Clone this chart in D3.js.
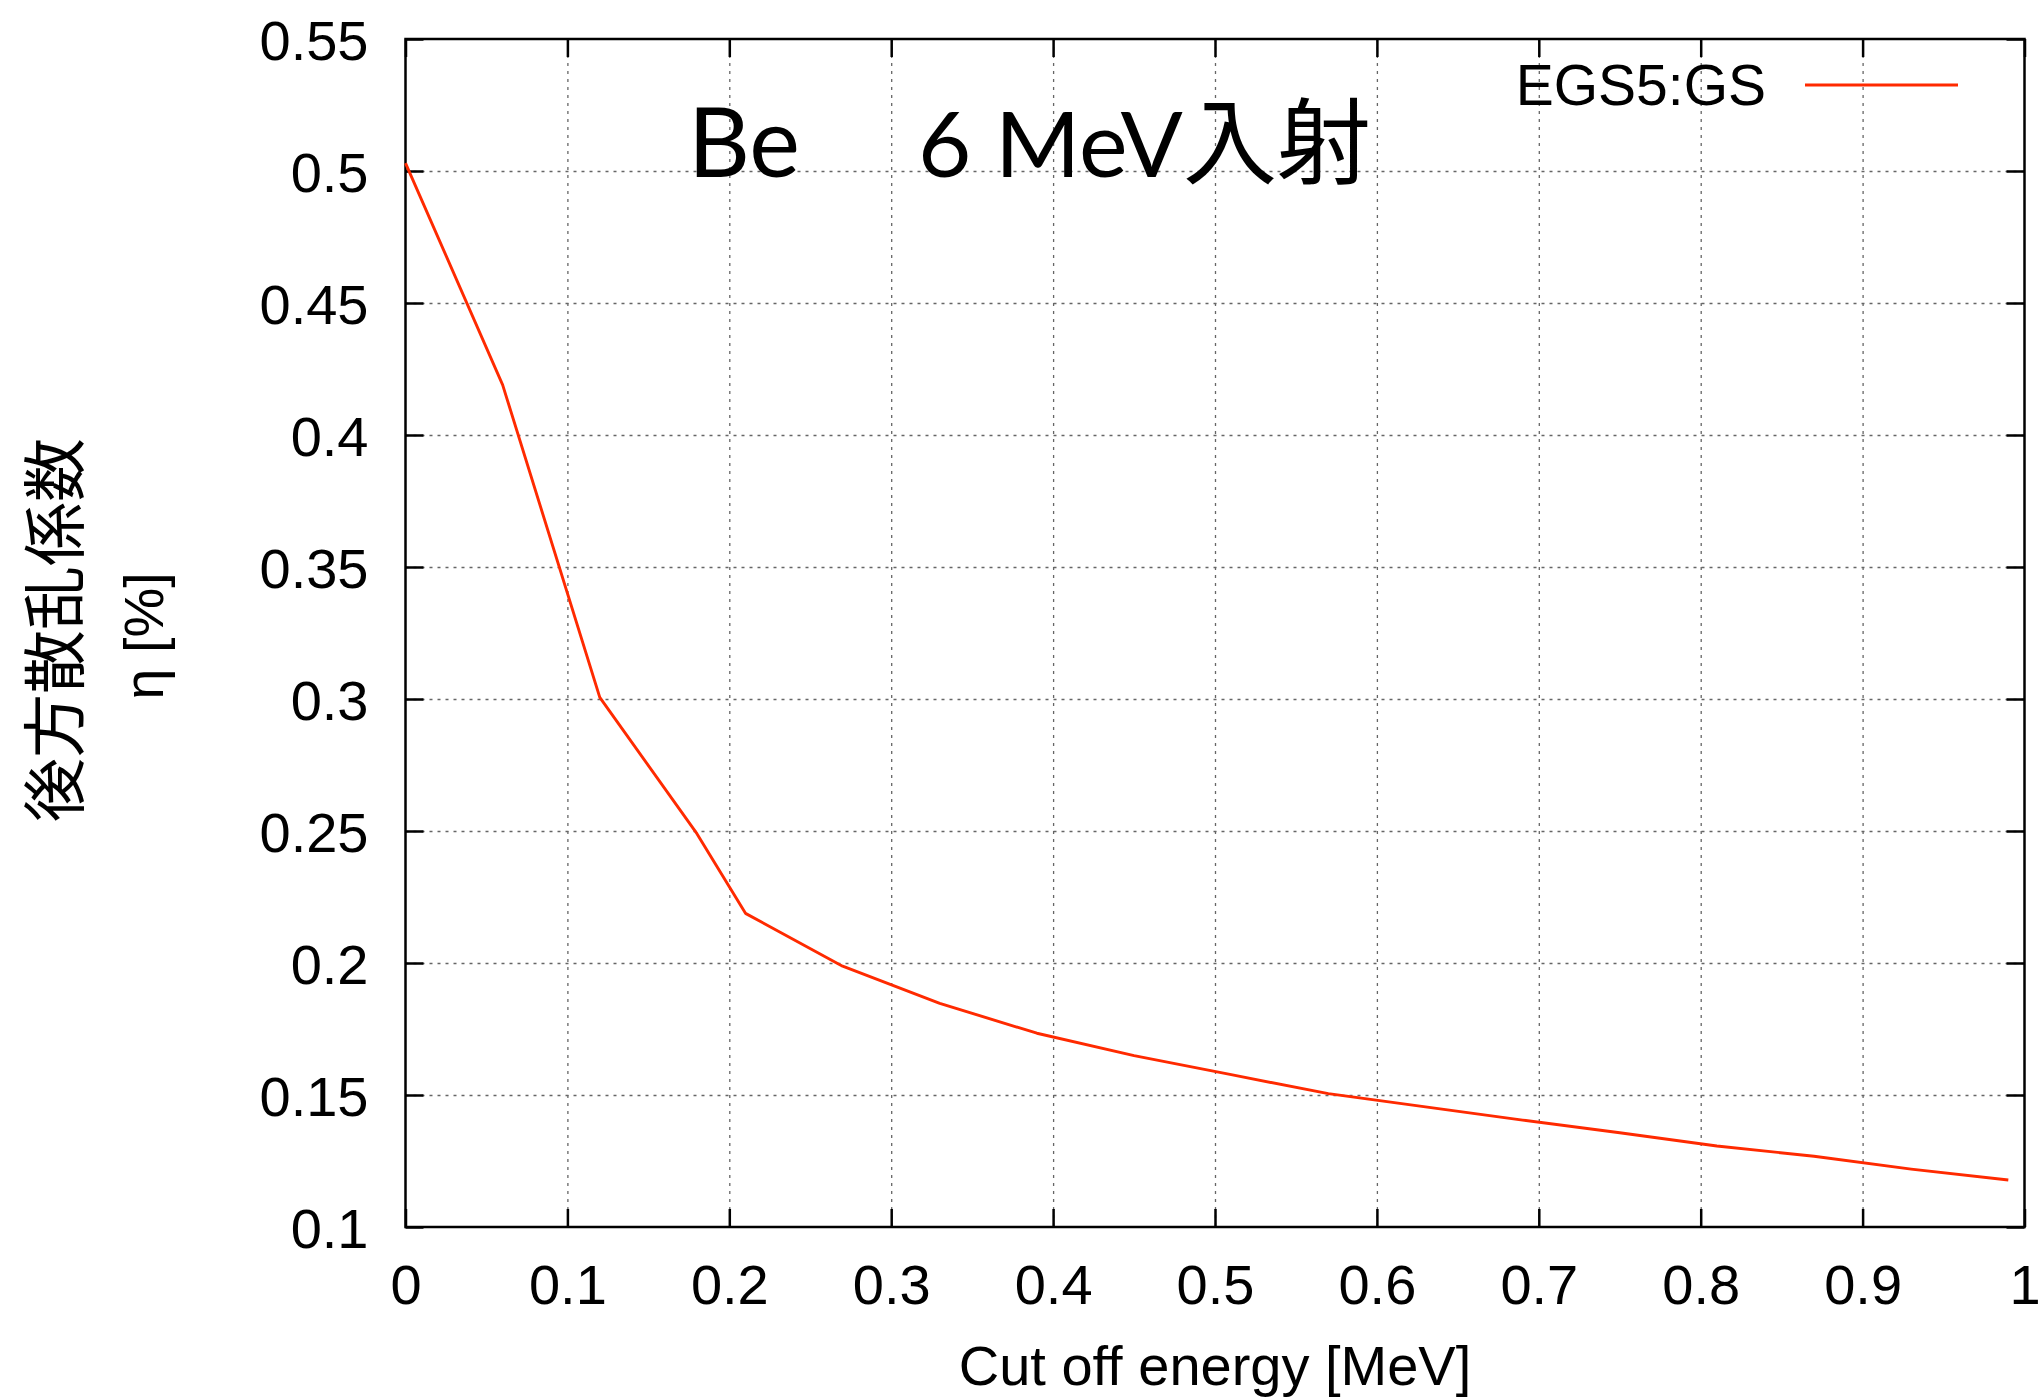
<!DOCTYPE html>
<html>
<head>
<meta charset="utf-8">
<script src="https://cdn.jsdelivr.net/npm/d3@7"></script>
<style>
    body { margin: 0; background: #fff; }
    svg { display: block; }
    text { font-family: "Liberation Sans", Arial, sans-serif; fill: #000; }
</style>
</head>
<body>
<svg id="chart" width="2044" height="1398"></svg>
<script>
// Backscatter coefficient vs cut off energy (EGS5:GS, Be, 6 MeV)
const cutoff = [0, 0.06, 0.12, 0.18, 0.21, 0.27, 0.33, 0.39, 0.45, 0.51, 0.57, 0.63, 0.69, 0.75, 0.81, 0.87, 0.93, 0.99];
const eta = [0.503, 0.419, 0.3006, 0.249, 0.2188, 0.1988, 0.1847, 0.1734, 0.1649, 0.1577, 0.1505, 0.1455, 0.1405, 0.1357, 0.1307, 0.1268, 0.1219, 0.1178];

const xTickValues = [0, 0.1, 0.2, 0.3, 0.4, 0.5, 0.6, 0.7, 0.8, 0.9, 1];
const xTickLabels = ["0", "0.1", "0.2", "0.3", "0.4", "0.5", "0.6", "0.7", "0.8", "0.9", "1"];
const yTickValues = [0.1, 0.15, 0.2, 0.25, 0.3, 0.35, 0.4, 0.45, 0.5, 0.55];
const yTickLabels = ["0.1", "0.15", "0.2", "0.25", "0.3", "0.35", "0.4", "0.45", "0.5", "0.55"];

const seriesName = "EGS5:GS";
const titleParts = ["Be", "6 MeV", "入射"];
const xLabel = "Cut off energy [MeV]";
const yLabelLines = ["後方散乱係数", "η [%]"];

const margin = { left: 405.5, top: 39 };
const width = 1619, height = 1188;
const tickLen = 18;
const red = "#ff2a00";

const svg = d3.select("#chart");
const g = svg.append("g").attr("transform", `translate(${margin.left},${margin.top})`);

const x = d3.scaleLinear().domain([0, 1]).range([0, width]);
const y = d3.scaleLinear().domain([0.1, 0.55]).range([height, 0]);

// grid (dotted)
const gridX = g.append("g")
    .call(d3.axisBottom(x).tickValues(xTickValues.slice(1, -1)).tickSize(height).tickFormat(""));
const gridY = g.append("g")
    .call(d3.axisRight(y).tickValues(yTickValues.slice(1, -1)).tickSize(width).tickFormat(""));
[gridX, gridY].forEach(grid => {
    grid.select(".domain").remove();
    grid.selectAll("line")
        .attr("stroke", "#666")
        .attr("stroke-width", 1.3)
        .attr("stroke-dasharray", "3,5");
});

// inward ticks on all four sides
const fmtX = (d, i) => xTickLabels[i];
const fmtY = (d, i) => yTickLabels[i];

const axB = g.append("g").attr("transform", `translate(0,${height})`)
    .call(d3.axisBottom(x).tickValues(xTickValues).tickFormat(fmtX).tickSizeInner(-tickLen).tickSizeOuter(0));
axB.selectAll("text").attr("y", 77).attr("dy", null).style("font-size", "56px");

const axT = g.append("g")
    .call(d3.axisTop(x).tickValues(xTickValues).tickFormat("").tickSizeInner(-tickLen).tickSizeOuter(0));

const axL = g.append("g")
    .call(d3.axisLeft(y).tickValues(yTickValues).tickFormat(fmtY).tickSizeInner(-tickLen).tickSizeOuter(0));
axL.selectAll("text").attr("x", -37).attr("dy", "0.36em").style("font-size", "56px");

const axR = g.append("g").attr("transform", `translate(${width},0)`)
    .call(d3.axisRight(y).tickValues(yTickValues).tickFormat("").tickSizeInner(-tickLen).tickSizeOuter(0));

[axB, axT, axL, axR].forEach(ax => {
    ax.select(".domain").remove();
    ax.selectAll("line").attr("stroke", "#000").attr("stroke-width", 2.5);
    ax.selectAll("text").attr("fill", "#000").style("font-family", "'Liberation Sans', Arial, sans-serif");
});

// frame
g.append("rect")
    .attr("width", width).attr("height", height)
    .attr("fill", "none").attr("stroke", "#000").attr("stroke-width", 2.5);

// data line
const line = d3.line().x((d, i) => x(cutoff[i])).y(d => y(d));
g.append("path")
    .datum(eta)
    .attr("d", line)
    .attr("fill", "none")
    .attr("stroke", red)
    .attr("stroke-width", 2.9)
    .attr("stroke-linejoin", "round");

// legend
svg.append("text")
    .attr("x", 1766).attr("y", 105)
    .attr("text-anchor", "end")
    .style("font-size", "57px")
    .text(seriesName);
svg.append("line")
    .attr("x1", 1805).attr("x2", 1958).attr("y1", 85).attr("y2", 85)
    .attr("stroke", red).attr("stroke-width", 2.9);

// title inside plot
const title = svg.append("text").attr("y", 177);
title.append("tspan").attr("x", 688)
    .style("font-family", "Lato, 'Noto Sans', sans-serif").style("font-size", "96px")
    .text(titleParts[0]);
title.append("tspan").attr("x", 918)
    .style("font-family", "Lato, 'Noto Sans', sans-serif").style("font-size", "92px")
    .text(titleParts[1]);
title.append("tspan")
    .style("font-family", "'Noto Sans CJK JP', sans-serif").style("font-size", "94px")
    .text(titleParts[2]);

// axis labels
svg.append("text")
    .attr("x", 1215).attr("y", 1385)
    .attr("text-anchor", "middle")
    .style("font-size", "56px")
    .text(xLabel);

svg.append("text")
    .attr("transform", "translate(50,630) rotate(-90)")
    .attr("text-anchor", "middle")
    .attr("dominant-baseline", "central")
    .style("font-family", "'Noto Sans CJK JP', sans-serif")
    .style("font-size", "64px")
    .text(yLabelLines[0]);
svg.append("text")
    .attr("transform", "translate(143,636) rotate(-90)")
    .attr("text-anchor", "middle")
    .attr("dominant-baseline", "central")
    .style("font-size", "56px")
    .text(yLabelLines[1]);
</script>
</body>
</html>
